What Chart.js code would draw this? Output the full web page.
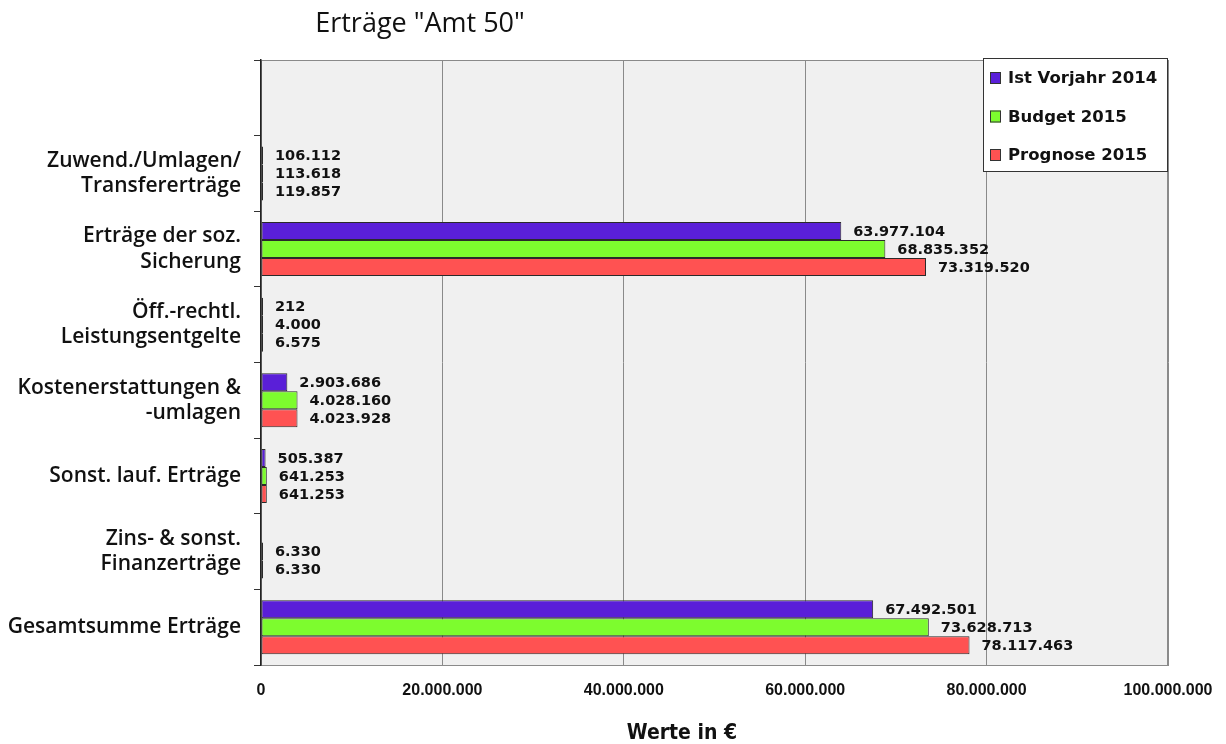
<!DOCTYPE html>
<html>
<head>
<meta charset="utf-8">
<script src="https://cdn.jsdelivr.net/npm/chart.js@4"></script>
<style>
  body { margin: 0; background: #fff; }
  #wrap { width: 1226px; height: 744px; }
</style>
</head>
<body>
<div id="wrap"><canvas id="chart" width="1226" height="744"></canvas></div>
<script>
// Categories (first slot is empty, as in the original)
const categories = [
    '',
    ['Zuwend./Umlagen/', 'Transfererträge'],
    ['Erträge der soz.', 'Sicherung'],
    ['Öff.-rechtl.', 'Leistungsentgelte'],
    ['Kostenerstattungen &', '-umlagen'],
    'Sonst. lauf. Erträge',
    ['Zins- & sonst.', 'Finanzerträge'],
    'Gesamtsumme Erträge'
];

const seriesNames = ['Ist Vorjahr 2014', 'Budget 2015', 'Prognose 2015'];
const istVorjahr = [null, 106112, 63977104, 212, 2903686, 505387, null, 67492501];
const budget = [null, 113618, 68835352, 4000, 4028160, 641253, 6330, 73628713];
const prognose = [null, 119857, 73319520, 6575, 4023928, 641253, 6330, 78117463];
const seriesColors = ['#5a1fd8', '#7dfc2e', '#ff5252'];

const xTicks = [0, 20000000, 40000000, 60000000, 80000000, 100000000];

function formatDe(v) {
    return String(Math.round(v)).replace(/\B(?=(\d{3})+(?!\d))/g, '.');
}

// grey plot background and frame
const plotBackground = {
    id: 'plotBackground',
    beforeDraw(chart) {
        const { ctx, chartArea: a } = chart;
        ctx.save();
        ctx.fillStyle = '#f0f0f0';
        ctx.fillRect(a.left, a.top, a.right - a.left, a.bottom - a.top);
        ctx.strokeStyle = '#8a8a8a';
        ctx.lineWidth = 1;
        ctx.strokeRect(a.left + 0.5, a.top + 0.5, a.right - a.left - 1, a.bottom - a.top);
        ctx.restore();
    }
};

// value labels to the right of each bar
const valueLabels = {
    id: 'valueLabels',
    afterDatasetsDraw(chart) {
        const ctx = chart.ctx;
        ctx.save();
        ctx.font = 'bold 14.5px "DejaVu Sans", sans-serif';
        ctx.fillStyle = '#111';
        ctx.textAlign = 'left';
        ctx.textBaseline = 'middle';
        chart.data.datasets.forEach((ds, i) => {
            chart.getDatasetMeta(i).data.forEach((bar, j) => {
                const v = ds.data[j];
                if (v === null || v === undefined) return;
                ctx.fillText(formatDe(v), bar.x + 12, bar.y + 1);
            });
        });
        ctx.restore();
    }
};

// legend box inside the plot, title and axis title
const decorations = {
    id: 'decorations',
    afterDraw(chart) {
        const { ctx, chartArea: a } = chart;
        ctx.save();
        // legend
        const bw = 185, bh = 114;
        const bx = a.right - bw, by = a.top - 2;
        ctx.fillStyle = '#fff';
        ctx.fillRect(bx, by, bw, bh);
        ctx.strokeStyle = '#333';
        ctx.lineWidth = 1;
        ctx.strokeRect(bx + 0.5, by + 0.5, bw - 1, bh - 1);
        ctx.font = 'bold 16.5px "DejaVu Sans", sans-serif';
        ctx.textBaseline = 'middle';
        ctx.textAlign = 'left';
        chart.data.datasets.forEach((ds, i) => {
            const y = by + 20 + i * 38.5;
            ctx.fillStyle = ds.backgroundColor;
            ctx.fillRect(bx + 7, y - 6, 11, 12);
            ctx.strokeStyle = '#333';
            ctx.strokeRect(bx + 7.5, y - 5.5, 10, 11);
            ctx.fillStyle = '#111';
            ctx.fillText(ds.label, bx + 25, y + 1);
        });
        // chart title
        ctx.fillStyle = '#111';
        ctx.textAlign = 'center';
        ctx.textBaseline = 'alphabetic';
        ctx.font = '500 27px "Open Sans", sans-serif';
        ctx.fillText('Erträge "Amt 50"', 420, 32);
        // axis title
        ctx.font = 'bold 21px "DejaVu Sans Condensed", "DejaVu Sans", sans-serif';
        ctx.fillText('Werte in €', 682, 739);
        ctx.restore();
    }
};

new Chart(document.getElementById('chart'), {
    type: 'bar',
    data: {
        labels: categories,
        datasets: [
            { label: seriesNames[0], data: istVorjahr, backgroundColor: seriesColors[0] },
            { label: seriesNames[1], data: budget, backgroundColor: seriesColors[1] },
            { label: seriesNames[2], data: prognose, backgroundColor: seriesColors[2] }
        ]
    },
    options: {
        indexAxis: 'y',
        responsive: false,
        animation: false,
        layout: { padding: { top: 60, right: 58, left: 0, bottom: 0 } },
        datasets: {
            bar: {
                categoryPercentage: 0.715,
                barPercentage: 1,
                borderWidth: 1,
                borderColor: '#2a2a2a',
                borderSkipped: false,
                minBarLength: 2
            }
        },
        plugins: {
            legend: { display: false },
            title: { display: false },
            tooltip: { enabled: false }
        },
        scales: {
            x: {
                min: 0,
                max: 100000000,
                afterBuildTicks(scale) {
                    scale.ticks = xTicks.map(v => ({ value: v }));
                },
                afterFit(scale) {
                    scale.height = 79;
                    scale.paddingLeft = 0;
                    scale.paddingRight = 0;
                },
                ticks: {
                    padding: 16,
                    color: '#111',
                    font: { family: '"Liberation Sans", sans-serif', size: 16, weight: 'bold' },
                    callback: v => formatDe(v)
                },
                grid: { color: '#8a8a8a', drawTicks: false },
                border: { color: '#8a8a8a' }
            },
            y: {
                afterFit(scale) { scale.width = 261; },
                ticks: {
                    padding: 13,
                    color: '#111',
                    font: { family: '"Open Sans", sans-serif', size: 21, weight: '600' },
                    lineHeight: 1.25
                },
                grid: { offset: true, drawOnChartArea: false, tickLength: 7, color: '#333' },
                border: { color: '#222', width: 1.5 }
            }
        }
    },
    plugins: [plotBackground, valueLabels, decorations]
});
</script>
</body>
</html>
